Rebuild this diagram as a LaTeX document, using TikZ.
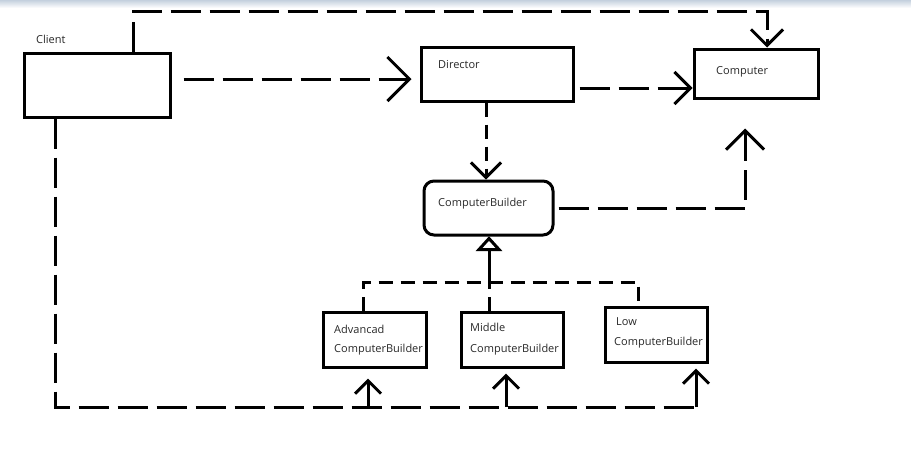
\documentclass[tikz,border=0pt]{standalone}
\usepackage{fontspec}
\setmainfont{Open Sans}
\usetikzlibrary{arrows.meta,calc}
\definecolor{band}{RGB}{196,208,222}
\definecolor{txt}{RGB}{40,40,40}
\begin{document}
\begin{tikzpicture}[x=1pt,y=-1pt,
  box/.style={draw,line width=3pt,minimum width=#1,inner sep=0pt},
  lbl/.style={anchor=west,inner sep=0pt,text=txt,font=\fontsize{11}{13}\selectfont},
  dep/.style={line width=3pt,dash pattern=on 30pt off 9pt},
  sdep/.style={line width=3pt,dash pattern=on 14pt off 8pt},
  solidl/.style={line width=3pt},
  vtip/.style={-{Straight Barb[length=#1,width=2*#1]}},
  inherit/.style={line width=3pt,line join=miter,fill=white},
]
\useasboundingbox (0,0) rectangle (911,448);
\fill[top color=band,bottom color=white] (0,0) rectangle (911,8);

% boxes
\node[box=146pt,minimum height=64pt] (client) at (97,85) {};
\node[box=152pt,minimum height=54pt] (director) at (497,74) {};
\node[box=124pt,minimum height=49pt] (computer) at (756,73.5) {};
\node[box=129pt,minimum height=54pt,rounded corners=10pt] (cb) at (488.5,208) {};
\node[box=103pt,minimum height=55pt] (adv) at (374.5,339.5) {};
\node[box=102pt,minimum height=55pt] (mid) at (512,339.5) {};
\node[box=102pt,minimum height=55pt] (low) at (656,334.5) {};

% labels
\node[lbl] (tclient) at (36,39) {Client};
\node[lbl] (tdirector) at (438,65) {Director};
\node[lbl] (tcomputer) at (716,72) {Computer};
\node[lbl] (tcb) at (438,204) {ComputerBuilder};
\node[lbl] (tadv1) at (334,329) {Advancad};
\node[lbl] (tadv2) at (334,350) {ComputerBuilder};
\node[lbl] (tmid1) at (470,327) {Middle};
\node[lbl] (tmid2) at (470,350) {ComputerBuilder};
\node[lbl] (tlow1) at (616,322) {Low};
\node[lbl] (tlow2) at (614,343) {ComputerBuilder};

% helper coordinates
\coordinate (ctop) at (133,11);
\coordinate (ctopr) at (767,11);
\coordinate (y79) at (0,79);
\coordinate (y88) at (0,88);
\coordinate (x486) at (486,0);
\coordinate (x745) at (745,0);
\coordinate (hjoin) at (489,282);
\coordinate (hl) at (363,282);
\coordinate (hr) at (638,282);
\coordinate (bl) at (55,407);
\coordinate (br) at (697,407);
\coordinate (xa) at (368,0);
\coordinate (xm) at (506,0);
\coordinate (xl) at (696,0);

% Client -> Computer (top)
\draw[dep,vtip=16pt] (client.north -| ctop) |- (ctopr) -- (computer.north -| ctopr);
% Client -> Director
\draw[dep,vtip=22pt,shorten <=12pt,shorten >=8pt] (client.east |- y79) -- (director.west |- y79);
% Director -> Computer
\draw[dep,vtip=16pt,shorten <=5pt] (director.east |- y88) -- (computer.west |- y88);
% Director -> ComputerBuilder
\draw[sdep,vtip=15pt] (director.south -| x486) -- (cb.north -| x486);
% ComputerBuilder -> Computer
\draw[dep,vtip=19pt,shorten <=4pt,shorten >=29pt] (cb.east) -| (computer.south -| x745);
% inheritance
\draw[sdep] (adv.north -| hl) |- (hr) -- (low.north -| hr);
\draw[sdep] (mid.north -| hjoin) -- (hjoin);
\draw[solidl] (hjoin) -- ($(cb.south -| hjoin)+(0,12)$);
\draw[inherit] ($(cb.south -| hjoin)+(0,2)$) -- ++(-10,11) -- ++(20,0) -- cycle;
% Client -> concrete builders (bottom)
\draw[dep] (client.south -| bl) |- (br);
\draw[solidl,vtip=13pt,shorten >=10pt] (bl -| xa) -- (adv.south -| xa);
\draw[solidl,vtip=13pt,shorten >=5pt] (bl -| xm) -- (mid.south -| xm);
\draw[solidl,vtip=13pt,shorten >=5pt] (bl -| xl) -- (low.south -| xl);
\end{tikzpicture}
\end{document}
